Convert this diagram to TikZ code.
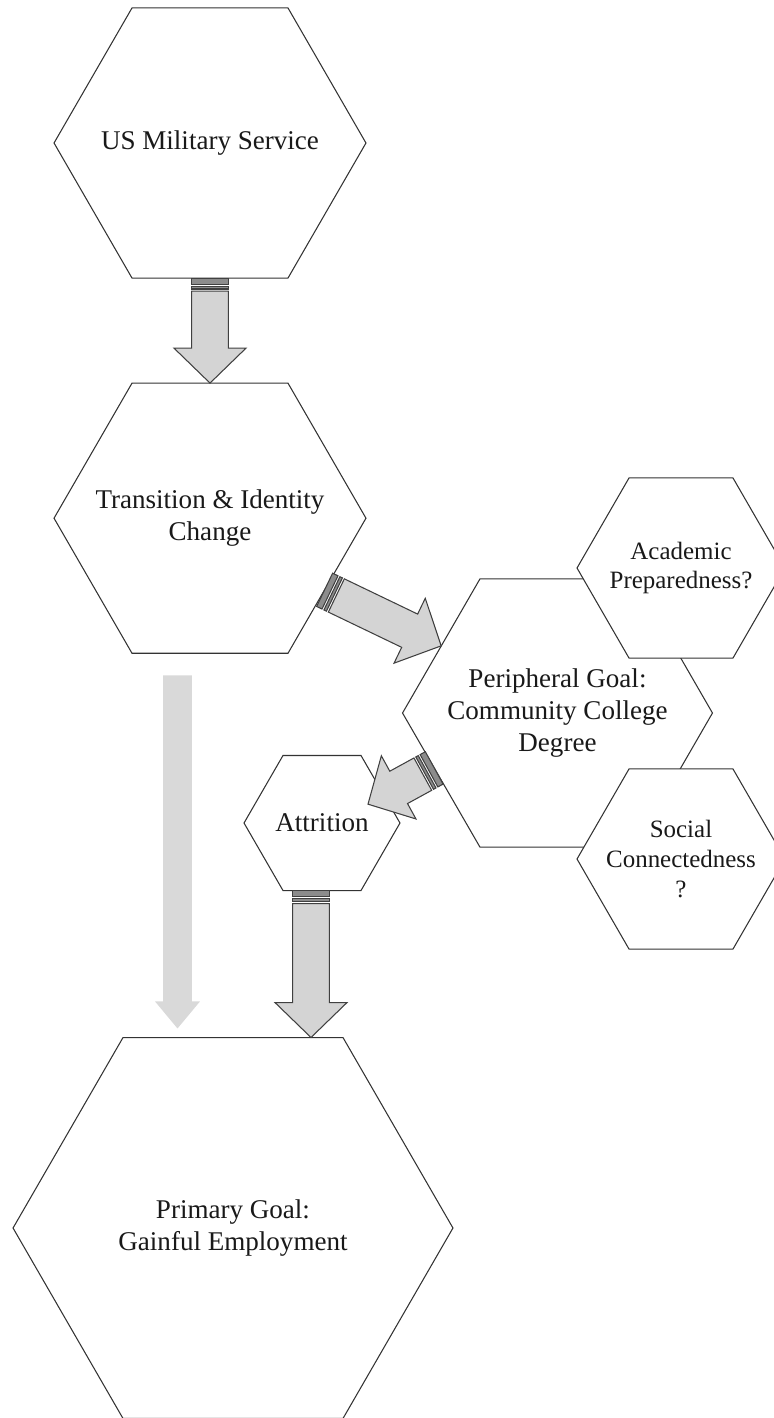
\documentclass[tikz,border=0pt]{standalone}
\usepackage{fontspec}
\setmainfont{Liberation Serif}
\usetikzlibrary{calc, positioning, shapes.geometric}

\tikzset{
  hexatext/.style={align=center, text=black!90, font=\fontsize{15.4}{18.3}\selectfont},
  smalltext/.style={hexatext, font=\fontsize{14.2}{16.9}\selectfont},
  hexa/.style={draw=black!80, fill=white, line width=0.6pt, regular polygon, regular polygon sides=6, inner sep=0pt, outer sep=0pt, label={[hexatext]center:#1}},
  smallhexa/.style={hexa={}, label={[smalltext]center:#1}},
  arrowbody/.style={fill=black!17, draw=black!75, line width=0.6pt, line join=miter},
  arrowstripe/.style={arrowbody, fill=black!45},
  fadearrow/.style={fill=black!15}
}

\newcommand{\stripedarrow}[2]{%
  \filldraw[arrowstripe] let \p1=(#1), \p2=(#2), \n1={atan2(\y2-\y1,\x2-\x1)} in
    [shift={(\p1)}, rotate=\n1] (0pt,-10.5pt) rectangle (3.4pt,10.5pt) (4.6pt,-10.5pt) rectangle (6.2pt,10.5pt);
  \filldraw[arrowbody] let \p1=(#1), \p2=(#2), \n1={atan2(\y2-\y1,\x2-\x1)}, \n2={veclen(\x2-\x1,\y2-\y1)} in
    [shift={(\p1)}, rotate=\n1] (7.4pt,-10.5pt) -- ({\n2*1pt-19.9pt},-10.5pt) -- ({\n2*1pt-19.9pt},-20.5pt) -- ({\n2*1pt},0pt)
    -- ({\n2*1pt-19.9pt},20.5pt) -- ({\n2*1pt-19.9pt},10.5pt) -- (7.4pt,10.5pt) -- cycle;
}
\newcommand{\fadedarrow}[2]{%
  \fill[fadearrow] let \p1=(#1), \p2=(#2), \n1={atan2(\y2-\y1,\x2-\x1)}, \n2={veclen(\x2-\x1,\y2-\y1)} in
    [shift={(\p1)}, rotate=\n1] (0pt,-8.25pt) -- ({\n2*1pt-15.4pt},-8.25pt) -- ({\n2*1pt-15.4pt},-12.8pt) -- ({\n2*1pt},0pt)
    -- ({\n2*1pt-15.4pt},12.8pt) -- ({\n2*1pt-15.4pt},8.25pt) -- (0pt,8.25pt) -- cycle;
}

\begin{document}
\begin{tikzpicture}[x=0.02cm, y=-0.02cm]
\useasboundingbox (0,0) rectangle (774,1418);
\node[hexa={US Military Service}, minimum size=6.24cm] (0) at (210,143) {};
\node[hexa={Transition \& Identity\\Change}, minimum size=6.24cm, below=2.1cm of 0] (1) {};
\node[hexa={Peripheral Goal:\\Community College\\Degree}, minimum size=6.2cm] (2) at (557.5,713) {};
\node[smallhexa={Academic\\Preparedness?}, minimum size=4.16cm] (3) at (681,568) {};
\node[smallhexa={Social\\Connectedness\\?}, minimum size=4.16cm] (4) at (681,859) {};
\node[hexa={Attrition}, minimum size=3.12cm] (5) at (322,823) {};
\node[hexa={Primary Goal:\\Gainful Employment}, minimum size=8.8cm] (6) at (233,1228) {};
\coordinate (7) at ($(1.south)+(-32.5,22)$);
\coordinate (8) at ($(7 |- 6.north)+(0,-9)$);
\coordinate (9) at ([xshift=-0.22cm]5.south);
\fadedarrow{7}{8}
\stripedarrow{0.south}{1.north}
\stripedarrow{1.328}{2.150}
\stripedarrow{2.204}{$(2.204)!1.32!(5.24)$}
\stripedarrow{9}{9 |- 6.north}
\end{tikzpicture}
\end{document}
